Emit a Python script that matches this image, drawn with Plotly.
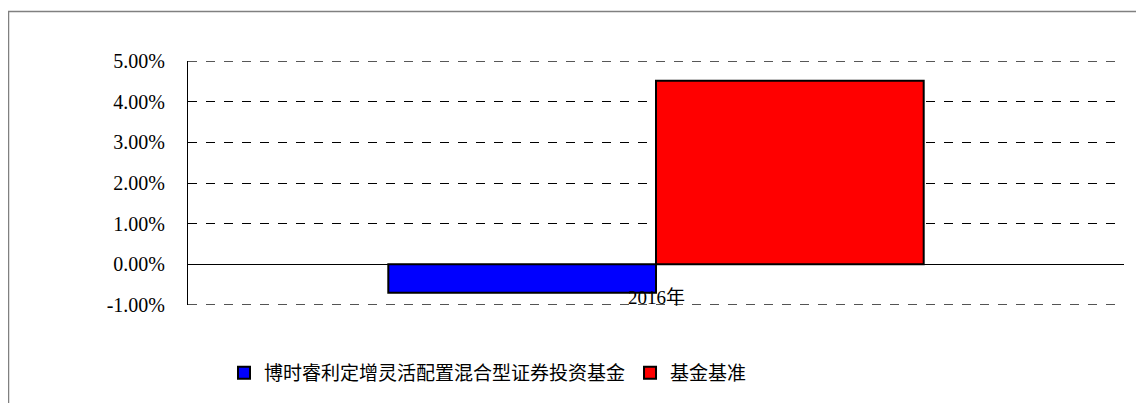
import plotly.graph_objects as go

categories = ["2016年"]
series_names = ["博时睿利定增灵活配置混合型证券投资基金", "基金基准"]
fund_values = [-0.70]
bench_values = [4.52]
colors = ["#0000FF", "#FF0000"]
tick_vals = [-1, 0, 1, 2, 3, 4, 5]
tick_text = ["-1.00%", "0.00%", "1.00%", "2.00%", "3.00%", "4.00%", "5.00%"]

fig = go.Figure()
for name, vals, col in zip(series_names, [fund_values, bench_values], colors):
    fig.add_trace(go.Bar(
        x=categories, y=vals, name=name,
        marker=dict(color=col, line=dict(color="#000000", width=2)),
    ))

W, H = 1144, 403
OFF = 8  # page body margin
ml, mr, mt, mb = 188 - OFF, 1144 - (1124 - OFF), 61 - OFF, 403 - (305 - OFF)
pw, ph = W - ml - mr, H - mt - mb

def px_x(p):
    return (p - OFF - ml) / pw

def px_y(p):
    return (H - mb - (p - OFF)) / ph

edge_lines = [
    dict(type="line", xref="paper", yref="y", x0=0, x1=1, y0=v, y1=v,
         line=dict(color="#000000", width=1, dash="dash"), layer="below")
    for v in (tick_vals[0], tick_vals[-1])
]

fig.update_layout(
    width=W, height=H,
    margin=dict(l=ml, r=mr, t=mt, b=mb),
    paper_bgcolor="white", plot_bgcolor="white",
    barmode="group", bargap=0.428, bargroupgap=0,
    font=dict(family="Liberation Serif, Noto Sans CJK SC", size=18, color="#000000"),
    showlegend=True,
    legend=dict(
        orientation="h", x=px_x(488), y=px_y(373),
        xanchor="center", yanchor="middle",
        font=dict(family="Noto Sans CJK SC", size=19),
        itemsizing="constant", traceorder="normal",
    ),
    xaxis=dict(
        range=[-0.5, 0.5], showticklabels=False, showgrid=False,
        zeroline=False, showline=False, ticks="",
    ),
    yaxis=dict(
        range=[-1.004, 5.004], tickvals=tick_vals, ticktext=tick_text,
        showgrid=True, gridcolor="#000000", griddash="dash", gridwidth=1,
        zeroline=True, zerolinecolor="#000000", zerolinewidth=1,
        showline=True, linecolor="#000000", linewidth=1,
        ticks="", ticklabelstandoff=18,
        tickfont=dict(family="Liberation Serif", size=20),
    ),
    shapes=[
        dict(type="rect", xref="paper", yref="paper",
             x0=px_x(8.5), x1=px_x(1170), y0=px_y(430), y1=px_y(11.5),
             line=dict(color="#808080", width=1.5), layer="below"),
    ] + edge_lines,
    annotations=[
        dict(x=categories[0], xref="x", y=px_y(297), yref="paper",
             text=categories[0], showarrow=False, xanchor="center", yanchor="middle",
             font=dict(family="Liberation Serif, Noto Sans CJK SC", size=19)),
    ],
)

fig.write_html("out.html")
